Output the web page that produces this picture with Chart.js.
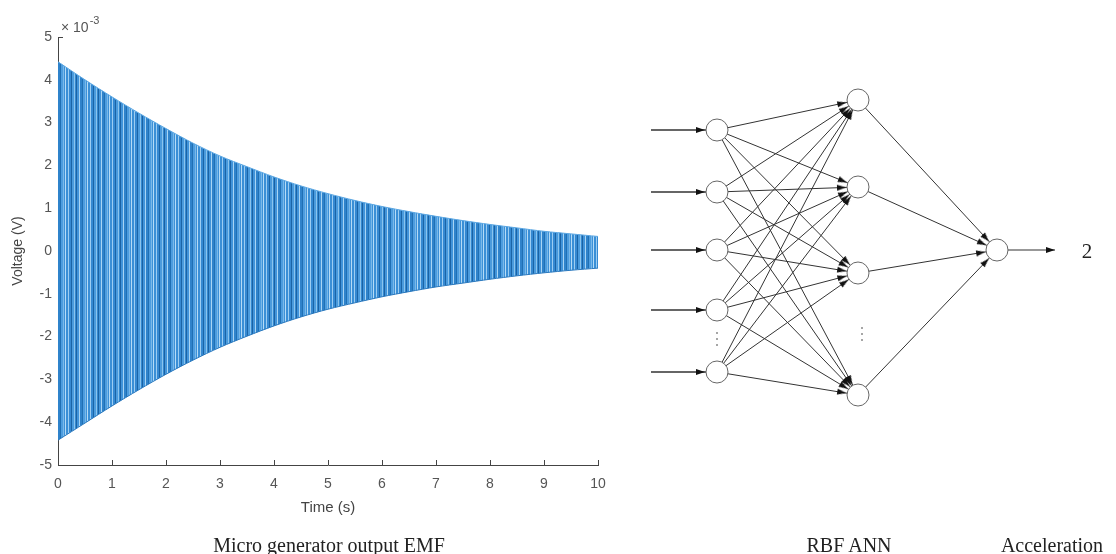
<!DOCTYPE html>
<html>
<head>
<meta charset="utf-8">
<script src="https://cdn.jsdelivr.net/npm/chart.js@4.4.0/dist/chart.umd.min.js"></script>
<style>
html,body{margin:0;padding:0;background:#fff;width:1116px;height:554px;overflow:hidden;}
#c1{position:absolute;left:0;top:0;}
#c2{position:absolute;left:620px;top:0;}
.cap{position:absolute;font-family:"Liberation Serif","DejaVu Serif",serif;color:#222;white-space:nowrap;transform:translate(-50%,-50%);line-height:1;}
</style>
</head>
<body>
<canvas id="c1" width="620" height="554"></canvas>
<canvas id="c2" width="496" height="554"></canvas>
<div class="cap" style="left:329px;top:545px;font-size:20px;">Micro generator output EMF</div>
<div class="cap" style="left:849px;top:545px;font-size:20px;">RBF ANN</div>
<div class="cap" style="left:1052px;top:545px;font-size:20px;">Acceleration</div>
<div class="cap" style="left:1087px;top:251px;font-size:21px;">2</div>
<script>
// ---------- data: micro generator output EMF (envelope) ----------
const timeS = [0,0.5,1,1.5,2,2.5,3,3.5,4,4.5,5,5.5,6,6.5,7,7.5,8,8.5,9,9.5,10];
const upperEnvelopeV = [0.00442,0.0040,0.0036,0.00322,0.00286,0.00252,0.00222,0.00197,0.00173,0.00152,0.00134,0.00118,0.00104,0.00092,0.00081,0.00071,0.00062,0.00054,0.00046,0.0004,0.00034];
const lowerEnvelopeV = [-0.00442,-0.00402,-0.00362,-0.00324,-0.00288,-0.00255,-0.00225,-0.00199,-0.00175,-0.00154,-0.00136,-0.00121,-0.00107,-0.00095,-0.00084,-0.00075,-0.00066,-0.00058,-0.00051,-0.00045,-0.0004];
const xTickValues = [0,1,2,3,4,5,6,7,8,9,10];

// ---------- data: RBF ANN diagram (node coordinates in diagram space) ----------
const inputNodesY  = [130, 192, 250, 310, 372];
const hiddenNodesY = [100, 187, 273, 395];
const outputNodesY = [250];
const inputLayerX = 717, hiddenLayerX = 858, outputLayerX = 997;
const inputArrowStartX = 651, outputArrowEndX = 1055;
const inputEllipsisY = [333, 339, 345];
const hiddenEllipsisY = [328, 334, 340];

// ---------- left chart ----------
function makeStripes() {
  const stripes = [[2,'#3a8fd6'],[1,'#9ccdf2'],[2,'#3589d2'],[1,'#1a64a6'],[2,'#4a9bdd'],[1,'#8ac4ee'],[1,'#3489d0'],[1,'#1b62a3'],[2,'#4194da'],[1,'#a9d5f4'],[2,'#2f83cb'],[1,'#2070b4'],[2,'#4d9ddf'],[1,'#7ab9e9'],[1,'#3d91d8'],[1,'#b5dbf6']];
  const w = stripes.reduce((s,a)=>s+a[0],0);
  const c = document.createElement('canvas'); c.width = w; c.height = 4;
  const g = c.getContext('2d'); let x = 0;
  stripes.forEach(([sw,col])=>{ g.fillStyle = col; g.fillRect(x,0,sw,4); x += sw; });
  return g.createPattern(c,'repeat');
}

const matlabTicks = {
  id: 'matlabTicks',
  beforeDatasetsDraw(chart) {
    const {ctx, scales:{x,y}, chartArea:a} = chart;
    ctx.save();
    ctx.strokeStyle = '#444'; ctx.lineWidth = 1;
    ctx.beginPath();
    x.ticks.forEach(t => { const px = Math.round(x.getPixelForValue(t.value)) + 0.5; ctx.moveTo(px, a.bottom); ctx.lineTo(px, a.bottom - 5); });
    y.ticks.forEach(t => { const py = Math.round(y.getPixelForValue(t.value)) + 0.5; ctx.moveTo(a.left, py); ctx.lineTo(a.left + 5, py); });
    ctx.stroke();
    ctx.restore();
  },
  afterDraw(chart) {
    const {ctx, chartArea:a} = chart;
    ctx.save();
    ctx.fillStyle = '#555';
    ctx.textBaseline = 'middle'; ctx.textAlign = 'left';
    ctx.font = '14px "Liberation Sans", Arial, sans-serif';
    ctx.fillText('\u00d7 10', a.left + 3, a.top - 9);
    const w = ctx.measureText('\u00d7 10').width;
    ctx.font = '11px "Liberation Sans", Arial, sans-serif';
    ctx.fillText('-3', a.left + 4 + w, a.top - 16);
    ctx.restore();
  }
};

const sans = '"Liberation Sans", Arial, sans-serif';
new Chart(document.getElementById('c1'), {
  type: 'line',
  data: {
    datasets: [
      { data: timeS.map((t,i)=>({x:t, y:upperEnvelopeV[i]})), borderColor:'#5aa6e2', borderWidth:1, pointRadius:0, fill:false, tension:0.3 },
      { data: timeS.map((t,i)=>({x:t, y:lowerEnvelopeV[i]})), borderColor:'#2a78bd', borderWidth:1, pointRadius:0, fill:'-1', backgroundColor: makeStripes(), tension:0.3 }
    ]
  },
  options: {
    responsive:false, animation:false, devicePixelRatio:1,
    layout:{autoPadding:false, padding:{top:37,right:22,left:0,bottom:0}},
    plugins:{legend:{display:false}, tooltip:{enabled:false}},
    scales:{
      x:{
        type:'linear', min:0, max:10,
        afterBuildTicks(s){ s.ticks = xTickValues.map(v=>({value:v})); },
        afterFit(s){ s.height = 89; },
        grid:{display:false, drawTicks:false},
        border:{display:true, color:'#444', width:1},
        ticks:{autoSkip:false, maxRotation:0, padding:11, color:'#555', font:{family:sans, size:14}},
        title:{display:true, text:'Time (s)', color:'#444', font:{family:sans, size:15}, padding:{top:0, bottom:37}}
      },
      y:{
        type:'linear', min:-0.005, max:0.005,
        afterFit(s){ s.width = 58; },
        grid:{display:false, drawTicks:false},
        border:{display:true, color:'#444', width:1},
        ticks:{stepSize:0.001, autoSkip:false, padding:6, color:'#555', font:{family:sans, size:14},
          callback:(v)=>String(Math.round(v*1000))},
        title:{display:true, text:'Voltage (V)', color:'#444', font:{family:sans, size:14}, padding:{top:10, bottom:0}}
      }
    }
  },
  plugins:[matlabTicks]
});

// ---------- right chart (network diagram) ----------
function makeArrowHead() {
  const c = document.createElement('canvas'); c.width = 6; c.height = 9;
  const g = c.getContext('2d');
  g.fillStyle = '#111';
  g.beginPath(); g.moveTo(3,0); g.lineTo(6,9); g.lineTo(0,9); g.closePath(); g.fill();
  return c;
}
const arrowImg = makeArrowHead();
const ARROW_HALF = 4.5;
const NODE_R = 12;

const inputNodes  = inputNodesY.map(y=>({x:inputLayerX, y}));
const hiddenNodes = hiddenNodesY.map(y=>({x:hiddenLayerX, y}));
const outputNodes = outputNodesY.map(y=>({x:outputLayerX, y}));

const edges = [];
inputNodes.forEach(a => edges.push([{x:inputArrowStartX, y:a.y}, a, NODE_R, 1.4]));
inputNodes.forEach(a => hiddenNodes.forEach(b => edges.push([a, b, NODE_R, 1])));
hiddenNodes.forEach(a => outputNodes.forEach(b => edges.push([a, b, NODE_R, 1])));
outputNodes.forEach(a => edges.push([a, {x:outputArrowEndX, y:a.y}, 0, 1.2]));

const arrowPts = [], arrowRot = [];
edges.forEach(([a,b,r]) => {
  const dx = b.x - a.x, dy = b.y - a.y, L = Math.hypot(dx,dy);
  const ux = dx/L, uy = dy/L;
  arrowPts.push({x: b.x - (r + ARROW_HALF)*ux, y: b.y - (r + ARROW_HALF)*uy});
  arrowRot.push(Math.atan2(dx, -dy) * 180 / Math.PI);
});

const edgeDatasets = edges.map(([a,b,r,w]) => ({
  data:[{x:a.x,y:a.y},{x:b.x,y:b.y}], showLine:true, borderColor:'#333', borderWidth:w, pointRadius:0, order:2
}));

new Chart(document.getElementById('c2'), {
  type:'scatter',
  data:{
    datasets:[
      { data: inputNodes.concat(hiddenNodes, outputNodes), pointRadius:11, pointBorderWidth:1, pointBorderColor:'#666', pointBackgroundColor:'#fff', showLine:false, order:0 },
      { data: inputEllipsisY.map(y=>({x:inputLayerX, y})).concat(hiddenEllipsisY.map(y=>({x:hiddenLayerX+4, y}))), pointRadius:1, pointBorderWidth:0, pointBackgroundColor:'#888', showLine:false, order:0 },
      { data: arrowPts, pointStyle: arrowImg, pointRotation: arrowRot, pointRadius:5, showLine:false, order:1 },
      ...edgeDatasets
    ]
  },
  options:{
    responsive:false, animation:false, devicePixelRatio:1,
    layout:{autoPadding:false, padding:0},
    plugins:{legend:{display:false}, tooltip:{enabled:false}},
    scales:{
      x:{type:'linear', min:620, max:1116, display:false},
      y:{type:'linear', min:0, max:554, reverse:true, display:false}
    }
  }
});
</script>
</body>
</html>
